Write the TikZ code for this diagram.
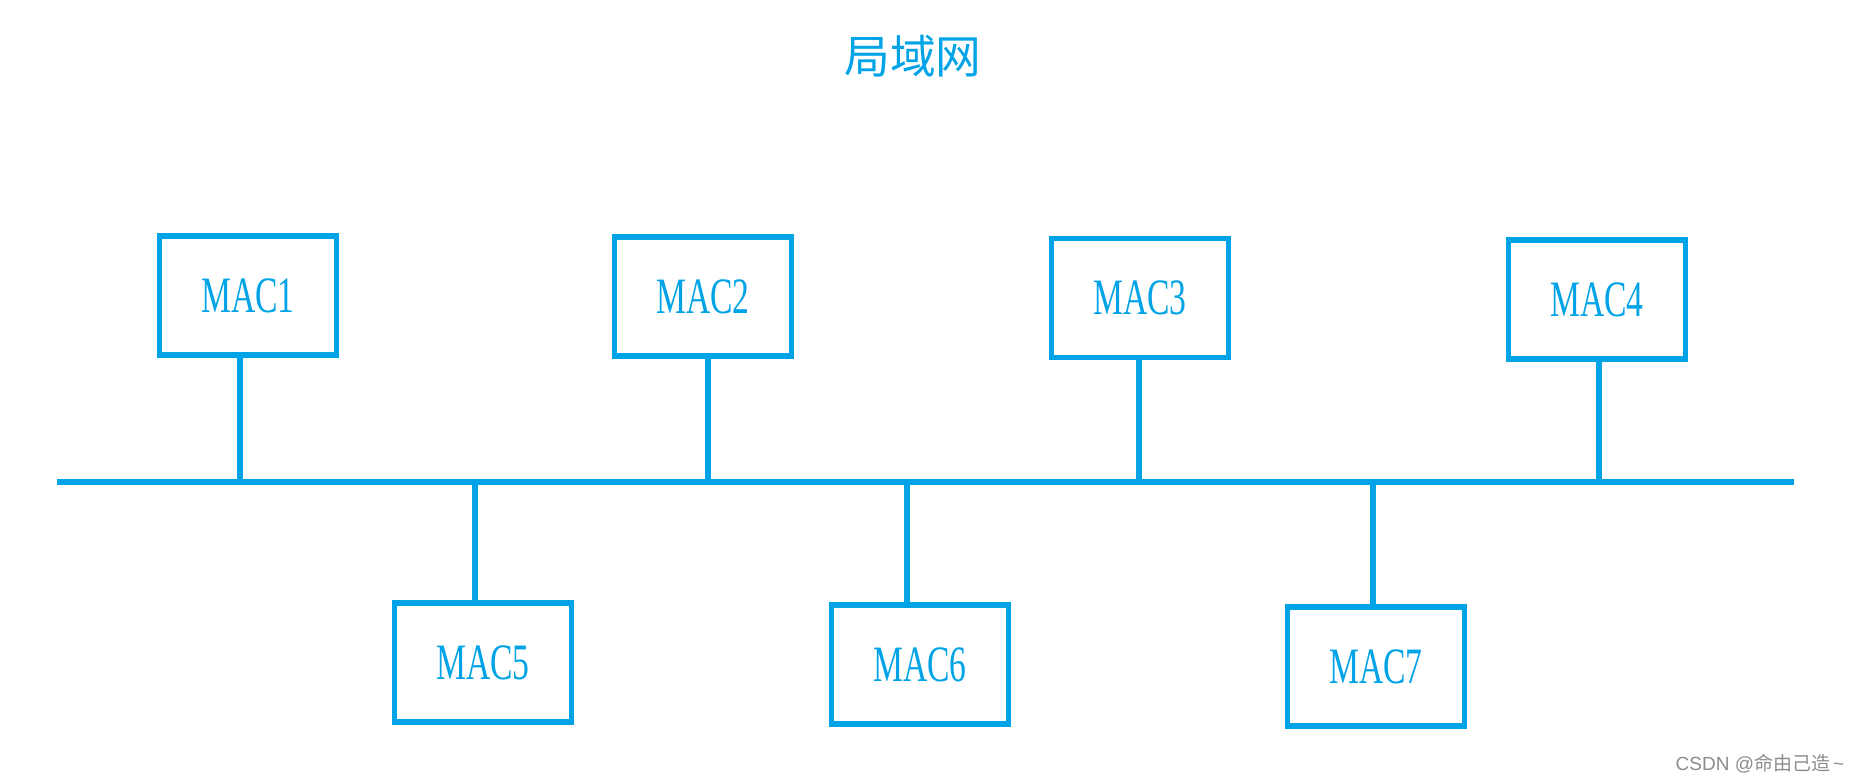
\documentclass[tikz,border=0pt]{standalone}
\usepackage{fontspec}
\newfontfamily\macfont[FakeStretch=0.66]{Liberation Serif}
\newfontfamily\cjkfont{Noto Sans CJK SC}
\newfontfamily\markfont{Liberation Sans}
\definecolor{lanblue}{RGB}{0,163,230}
\tikzset{
  macbox/.style={draw=lanblue, line width=1.45pt, minimum width=1.77cm, minimum height=1.19cm,
    inner sep=0pt, text=lanblue, font=\macfont\fontsize{14.5}{16}\selectfont},
  wire/.style={draw=lanblue, line width=1.45pt}
}
\begin{document}
\begin{tikzpicture}[x=0.01cm,y=-0.01cm]
\useasboundingbox (0,0) rectangle (1859,782);

\node[text=lanblue, font=\cjkfont\fontsize{13}{15}\selectfont] (title) at (913,56) {局域网};

\node[macbox] (mac1) at (248,295.5) {MAC1};
\node[macbox] (mac2) at (703,296.5) {MAC2};
\node[macbox] (mac3) at (1140,298) {MAC3};
\node[macbox] (mac4) at (1597,299.5) {MAC4};
\node[macbox] (mac5) at (483,662.5) {MAC5};
\node[macbox] (mac6) at (920,664.5) {MAC6};
\node[macbox] (mac7) at (1376,666.5) {MAC7};

\coordinate (busL) at (57,482);
\coordinate (busR) at (1794,482);
\draw[wire] (busL) -- (busR);

\coordinate (t1) at (240,482);
\coordinate (t2) at (708,482);
\coordinate (t3) at (1139,482);
\coordinate (t4) at (1599,482);
\coordinate (t5) at (475,482);
\coordinate (t6) at (907,482);
\coordinate (t7) at (1373,482);

\draw[wire] (t1) -- (t1 |- mac1.south);
\draw[wire] (t2) -- (t2 |- mac2.south);
\draw[wire] (t3) -- (t3 |- mac3.south);
\draw[wire] (t4) -- (t4 |- mac4.south);
\draw[wire] (t5) -- (t5 |- mac5.north);
\draw[wire] (t6) -- (t6 |- mac6.north);
\draw[wire] (t7) -- (t7 |- mac7.north);

\node[text=black!45, anchor=east, inner sep=0pt, font=\markfont\fontsize{5.4}{7}\selectfont] (mark) at (1845,764) {CSDN @{\cjkfont 命由己造}\,\textasciitilde};
\end{tikzpicture}
\end{document}
